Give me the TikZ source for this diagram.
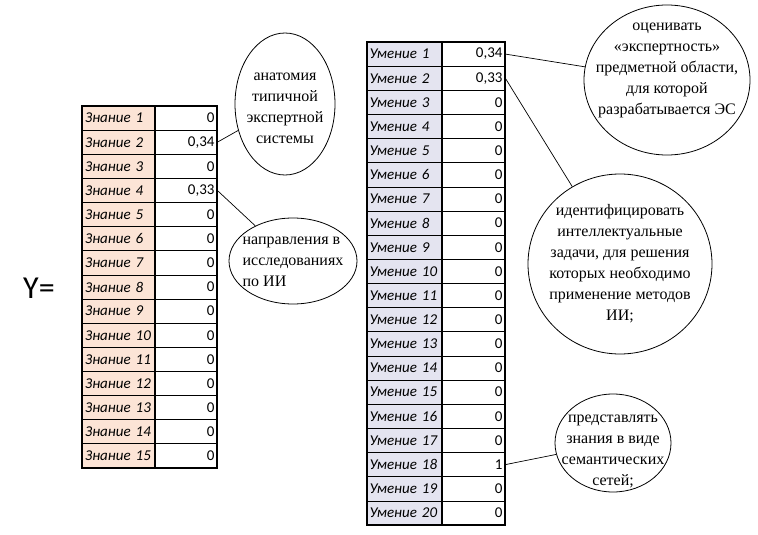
\documentclass[tikz,border=0pt]{standalone}
\usepackage{fontspec}
\setmainfont{Liberation Serif}
\newfontfamily\tabfont{Carlito}
\usetikzlibrary{shapes.geometric}
\definecolor{peach}{RGB}{252,228,214}
\definecolor{lav}{RGB}{228,228,240}
\begin{document}
\begin{tikzpicture}[x=1pt,y=-1pt,
  cell/.style={draw, line width=0.7pt, minimum height=24.13pt, inner xsep=2.5pt, inner ysep=0pt},
  zlab/.style={cell, fill=peach, text width=67.3pt, align=left, font=\tabfont\itshape\fontsize{15}{15}\selectfont},
  zval/.style={cell, fill=white, text width=57pt, align=right, font=\tabfont\fontsize{15}{15}\selectfont},
  ulab/.style={cell, minimum height=24.15pt, fill=lav, text width=70pt, align=left, font=\tabfont\itshape\fontsize{15}{15}\selectfont},
  uval/.style={cell, minimum height=24.15pt, fill=white, text width=58pt, align=right, font=\tabfont\fontsize{15}{15}\selectfont},
  frame/.style={draw, line width=1.8pt},
  bubble/.style={draw, ellipse, line width=0.8pt, inner sep=0pt},
  btext/.style={align=center, font=\fontsize{16}{21}\selectfont, inner sep=0pt},
  conn/.style={draw, line width=0.7pt}
]
\useasboundingbox (0,0) rectangle (758,535);

% left table
\foreach \i/\v in {1/0,2/{0,34},3/0,4/{0,33},5/0,6/0,7/0,8/0,9/0,10/0,11/0,12/0,13/0,14/0,15/0}{
  \node[zlab] (zl\i) at (118.85,{106+(\i-0.5)*24.13}) {Знание~\i};
  \node[zval] (zv\i) at (186,{106+(\i-0.5)*24.13}) {\v};
}
\draw[frame] (zl1.north west) rectangle (zv15.south east);
\draw[frame] (zl1.north east) -- (zl15.south east);

% right table
\foreach \i/\v in {1/{0,34},2/{0,33},3/0,4/0,5/0,6/0,7/0,8/0,9/0,10/0,11/0,12/0,13/0,14/0,15/0,16/0,17/0,18/1,19/0,20/0}{
  \node[ulab] (ul\i) at (404.5,{42+(\i-0.5)*24.15}) {Умение~\i};
  \node[uval] (uv\i) at (473.5,{42+(\i-0.5)*24.15}) {\v};
}
\draw[frame] (ul1.north west) rectangle (uv20.south east);
\draw[frame] (ul1.north east) -- (ul20.south east);

% Y=
\node[font=\tabfont\fontsize{32}{32}\selectfont] (Y) at (39,288) {Y=};

% bubbles
\node[bubble, minimum width=100pt, minimum height=142pt] (e1) at (285,104) {};
\node[btext] (t1) at (285,108) {анатомия\\типичной\\экспертной\\системы};

\node[bubble, minimum width=128pt, minimum height=86pt] (e2) at (293,261) {};
\node[btext, align=left] (t2) at (293,262) {направления в\\исследованиях\\по ИИ};

\node[bubble, minimum width=166pt, minimum height=150pt] (e3) at (667,80) {};
\node[btext] (t3) at (667,70) {оценивать\\«экспертность»\\предметной области,\\для которой\\разрабатывается ЭС};

\node[bubble, minimum width=184pt, minimum height=180pt] (e4) at (620,264) {};
\node[btext] (t4) at (620,264) {идентифицировать\\интеллектуальные\\задачи, для решения\\которых необходимо\\применение методов\\ИИ;};

\node[bubble, minimum width=116pt, minimum height=98pt] (e5) at (613,443) {};
\node[btext] (t5) at (613,451) {представлять\\знания в виде\\семантических\\сетей;};

% connectors
\draw[conn] (zv2.east) -- (e1);
\draw[conn] (zv4.east) -- (e2);
\draw[conn] (uv1.east) -- (e3);
\draw[conn] (uv2.east) -- (e4);
\draw[conn] (uv18.east) -- (e5);
\end{tikzpicture}
\end{document}
